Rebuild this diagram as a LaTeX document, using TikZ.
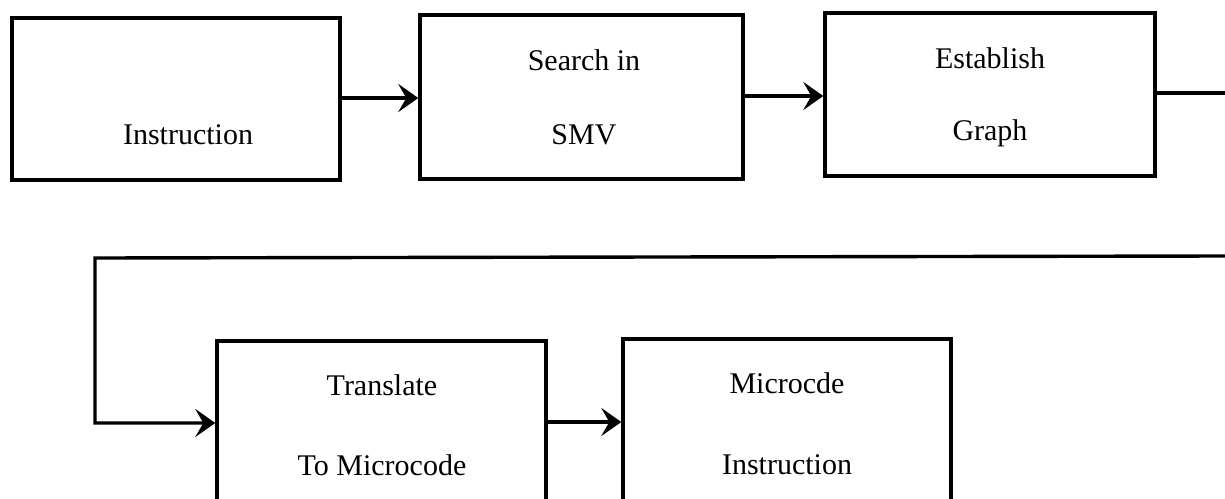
\documentclass[tikz,border=0pt]{standalone}
\usepackage{fontspec}
\setmainfont{Liberation Serif}
\usetikzlibrary{arrows.meta}
\begin{document}
\begin{tikzpicture}[x=0.5pt,y=-0.5pt,
  box/.style={draw,line width=1.7pt,inner sep=0pt},
  lbl/.style={font=\fontsize{15}{18}\selectfont,inner sep=0pt},
  flow/.style={line width=1.7pt,-{Stealth[length=10pt,width=14pt,inset=4pt]}},
  wire/.style={line width=1.7pt}]
\useasboundingbox (0,0) rectangle (1225,498);
\clip (0,0) rectangle (1225,498);
% process boxes
\node[box,minimum width=164pt,minimum height=81pt] (b1) at (176,99) {};
\node[box,minimum width=161.5pt,minimum height=82pt] (b2) at (581.5,97) {};
\node[box,minimum width=165pt,minimum height=81.5pt] (b3) at (990,94.5) {};
\node[box,minimum width=164.5pt,minimum height=120pt] (b4) at (381.5,461) {};
\node[box,minimum width=164pt,minimum height=120pt] (b5) at (787,459) {};
% labels
\node[lbl] (t1) at (188,135) {Instruction};
\node[lbl] (t2a) at (584,60) {Search in};
\node[lbl] (t2b) at (584,135) {SMV};
\node[lbl] (t3a) at (990,58) {Establish};
\node[lbl] (t3b) at (990,133) {Graph};
\node[lbl] (t4a) at (382,385) {Translate};
\node[lbl] (t4b) at (382,465) {To Microcode};
\node[lbl] (t5a) at (787,383) {Microcde};
\node[lbl] (t5b) at (787,465) {Instruction};
% connectors
\coordinate (e1) at (1225,93);
\coordinate (e2) at (1225,256);
\coordinate (c1) at (95,258);
\coordinate (c2) at (95,423);
\draw[flow] (b1.east |- 0,98) -- (b2.west |- 0,98);
\draw[flow] (b2.east |- 0,96) -- (b3.west |- 0,96);
\draw[wire] (b3.east |- e1) -- (e1);
\draw[flow] (e2) -- (c1) -- (c2) -- (b4.west |- c2);
\draw[flow] (b4.east |- 0,422) -- (b5.west |- 0,422);
\end{tikzpicture}
\end{document}
